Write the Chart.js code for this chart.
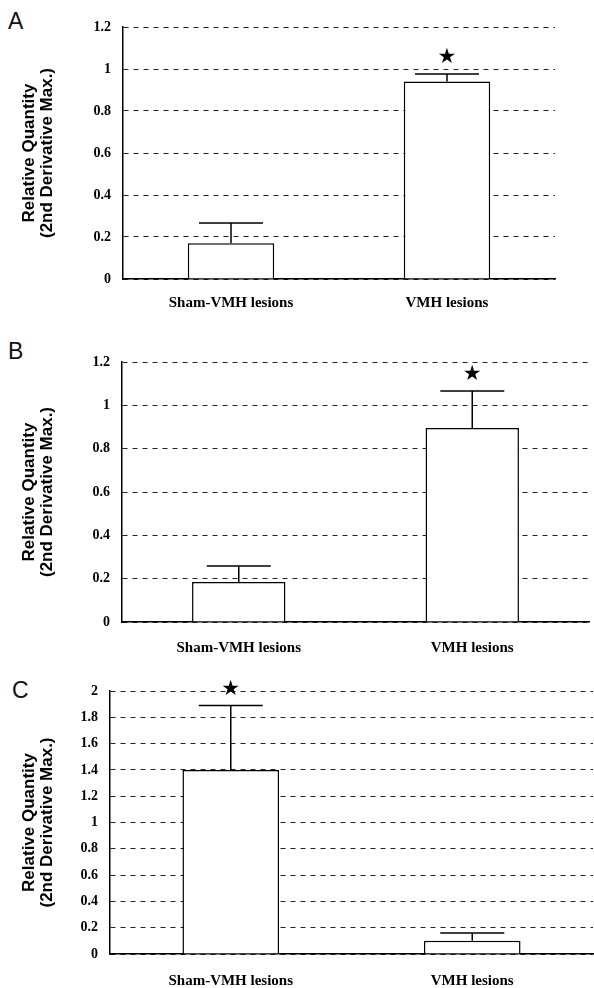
<!DOCTYPE html>
<html>
<head>
<meta charset="utf-8">
<script src="https://cdn.jsdelivr.net/npm/chart.js@4.4.0/dist/chart.umd.min.js"></script>
<style>
  body { margin: 0; background: #fff; }
  #page { position: relative; width: 594px; height: 988px; overflow: hidden; background: #fff; }
  canvas { position: absolute; left: 0; }
  .panel-label { position: absolute; font: 23px 'Liberation Sans', Arial, sans-serif; line-height: 1; color: #111; }
</style>
</head>
<body>
<div id="page">
  <div class="panel-label" style="left:8px;top:10px">A</div>
  <div class="panel-label" style="left:8px;top:340px">B</div>
  <div class="panel-label" style="left:12px;top:679px">C</div>
  <canvas id="chartA"></canvas>
  <canvas id="chartB"></canvas>
  <canvas id="chartC"></canvas>
</div>
<script>
const groups = ['Sham-VMH lesions', 'VMH lesions'];

// panel A
const valuesA = [0.17, 0.94];
const errorsA = [0.097, 0.036];
const starsA = [false, true];

// panel B
const valuesB = [0.185, 0.895];
const errorsB = [0.073, 0.171];
const starsB = [false, true];

// panel C
const valuesC = [1.40, 0.10];
const errorsC = [0.49, 0.06];
const starsC = [true, false];

const ticksAB = [0, 0.2, 0.4, 0.6, 0.8, 1, 1.2];
const ticksC = [0, 0.2, 0.4, 0.6, 0.8, 1, 1.2, 1.4, 1.6, 1.8, 2];
const yTitle = ['Relative Quantity', '(2nd Derivative Max.)'];

// error bars + significance star, placed from the bar elements and y scale
function errorBars(values, errors, stars) {
    return {
        id: 'errorBars',
        afterDatasetsDraw(chart) {
            const ctx = chart.ctx;
            const y = chart.scales.y;
            const meta = chart.getDatasetMeta(0);
            ctx.save();
            ctx.strokeStyle = '#000';
            ctx.lineWidth = 1.5;
            meta.data.forEach((bar, i) => {
                const yBase = y.getPixelForValue(values[i]);
                const yTop = y.getPixelForValue(values[i] + errors[i]);
                ctx.beginPath();
                ctx.moveTo(bar.x, yBase);
                ctx.lineTo(bar.x, yTop);
                ctx.moveTo(bar.x - 32, yTop);
                ctx.lineTo(bar.x + 32, yTop);
                ctx.stroke();
                if (stars[i]) {
                    ctx.fillStyle = '#000';
                    ctx.font = '21px "DejaVu Sans"';
                    ctx.textAlign = 'center';
                    ctx.textBaseline = 'middle';
                    ctx.fillText('\u2605', bar.x, yTop - 16);
                }
            });
            ctx.restore();
        }
    };
}

function makePanel(id, values, errors, stars, ticks, box) {
    const canvas = document.getElementById(id);
    canvas.width = 594;
    canvas.height = box.bottom - box.top;
    canvas.style.top = box.top + 'px';

    return new Chart(canvas.getContext('2d'), {
        type: 'bar',
        data: {
            labels: groups,
            datasets: [{
                data: values,
                backgroundColor: '#fff',
                borderColor: '#000',
                borderWidth: 1.5,
                borderSkipped: 'bottom',
                categoryPercentage: 1,
                barPercentage: 0.4
            }]
        },
        options: {
            responsive: false,
            animation: false,
            devicePixelRatio: 1,
            layout: {
                padding: { left: 20, top: box.areaTop - box.top, right: 594 - box.areaRight, bottom: 0 }
            },
            plugins: { legend: { display: false }, tooltip: { enabled: false } },
            scales: {
                x: {
                    grid: { display: false, drawTicks: false },
                    border: { display: true, color: '#000', width: 1.5 },
                    ticks: {
                        color: '#000',
                        padding: box.labelPad,
                        font: { family: '"Liberation Serif"', size: 15, weight: 'bold' }
                    },
                    afterFit(s) { s.height = box.bottom - box.areaBottom; }
                },
                y: {
                    min: 0,
                    max: ticks[ticks.length - 1],
                    afterBuildTicks(s) { s.ticks = ticks.map(v => ({ value: v })); },
                    grid: { color: '#222', lineWidth: 1, drawTicks: false },
                    border: { display: true, color: '#000', width: 1.5, dash: [5, 5] },
                    ticks: {
                        color: '#000',
                        padding: 12,
                        font: { family: '"Liberation Serif"', size: 14, weight: 'bold' },
                        callback: v => String(v)
                    },
                    title: {
                        display: true,
                        text: yTitle,
                        color: '#000',
                        padding: 0,
                        font: { family: '"Liberation Sans"', size: 17, weight: 'bold', lineHeight: 1.06 }
                    },
                    afterFit(s) { s.width = box.areaLeft - 20; }
                }
            }
        },
        plugins: [errorBars(values, errors, stars)]
    });
}

makePanel('chartA', valuesA, errorsA, starsA, ticksAB,
    { top: 0, bottom: 320, areaTop: 27, areaBottom: 279, areaLeft: 123, areaRight: 555, labelPad: 15 });
makePanel('chartB', valuesB, errorsB, starsB, ticksAB,
    { top: 320, bottom: 655, areaTop: 362, areaBottom: 622, areaLeft: 122, areaRight: 589, labelPad: 17 });
makePanel('chartC', valuesC, errorsC, starsC, ticksC,
    { top: 655, bottom: 988, areaTop: 691, areaBottom: 954, areaLeft: 110, areaRight: 593, labelPad: 18 });
</script>
</body>
</html>
